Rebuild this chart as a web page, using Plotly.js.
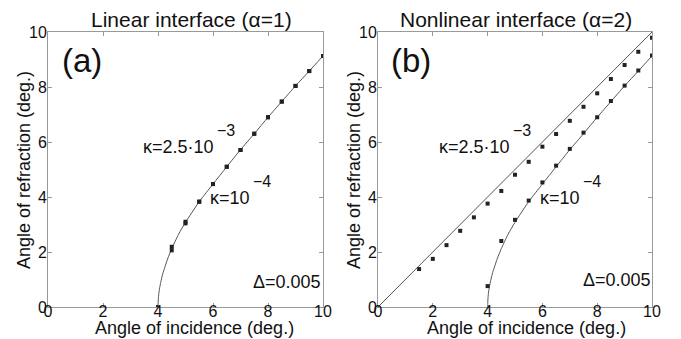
<!DOCTYPE html>
<html>
<head>
<meta charset="utf-8">
<script src="https://cdn.plot.ly/plotly-3.0.1.min.js"></script>
<style>html,body{margin:0;padding:0;background:#fff;}</style>
</head>
<body>
<div id="chart" style="width:681px;height:339px"></div>
<script>
// ---- data ----
const tickValues = [0, 2, 4, 6, 8, 10];
const tickLabels = ['0', '2', '4', '6', '8', '10'];

// theory curve (kappa = 1e-4 / linear), same in both panels
const curveX = [4, 4.01, 4.03, 4.06, 4.1, 4.17, 4.25, 4.35, 4.5, 4.75, 5, 5.5, 6, 6.5, 7, 7.5, 8, 8.5, 9, 9.5, 10];
const curveY = [0, 0.25, 0.5, 0.7, 0.9, 1.2, 1.45, 1.75, 2.12, 2.65, 3.08, 3.83, 4.47, 5.1, 5.72, 6.3, 6.9, 7.47, 8.04, 8.58, 9.13];

// panel (a) simulation points
const aK1X = [4, 4.5, 5, 5.5, 6, 6.5, 7, 7.5, 8, 8.5, 9, 9.5, 10];
const aK1Y = [0, 2.19, 3.10, 3.83, 4.47, 5.10, 5.71, 6.30, 6.90, 7.47, 8.04, 8.58, 9.13];
const aK2X = [4, 4.5, 5, 5.5, 6, 6.5, 7, 7.5, 8, 8.5, 9, 9.5, 10];
const aK2Y = [0, 2.06, 3.04, 3.83, 4.47, 5.10, 5.71, 6.30, 6.90, 7.47, 8.04, 8.58, 9.13];

// panel (b) diagonal theory line (kappa = 2.5e-3)
const diagX = [0, 10];
const diagY = [0, 10];

// panel (b) simulation points
const bK1X = [1.5, 2, 2.5, 3, 3.5, 4, 4.5, 5, 5.5, 6, 6.5, 7, 7.5, 8, 8.5, 9, 9.5, 10];
const bK1Y = [1.38, 1.75, 2.25, 2.77, 3.26, 3.76, 4.22, 4.81, 5.28, 5.83, 6.29, 6.77, 7.28, 7.77, 8.29, 8.80, 9.28, 9.79];
const bK2X = [4, 4.5, 5, 5.5, 6, 6.5, 7, 7.5, 8, 8.5, 9, 9.5, 10];
const bK2Y = [0.76, 2.40, 3.17, 3.87, 4.53, 5.14, 5.75, 6.34, 6.90, 7.49, 8.05, 8.60, 9.15];

// ---- layout helpers ----
const W = 681, H = 339;
const FONT = 'Liberation Sans, Arial, Helvetica, sans-serif';
const px = x => x / W;
const py = y => 1 - y / H;

const lineStyle = {color: '#555', width: 1, shape: 'spline', smoothing: 0.6};
const markerStyle = {color: '#222', size: 4, symbol: 'square'};

const traces = [
  {x: curveX, y: curveY, xaxis: 'x', yaxis: 'y', mode: 'lines', line: lineStyle, hoverinfo: 'skip'},
  {x: aK1X, y: aK1Y, xaxis: 'x', yaxis: 'y', mode: 'markers', marker: markerStyle},
  {x: aK2X, y: aK2Y, xaxis: 'x', yaxis: 'y', mode: 'markers', marker: markerStyle},
  {x: diagX, y: diagY, xaxis: 'x2', yaxis: 'y2', mode: 'lines', line: {color: '#555', width: 1}, hoverinfo: 'skip'},
  {x: curveX, y: curveY, xaxis: 'x2', yaxis: 'y2', mode: 'lines', line: lineStyle, hoverinfo: 'skip'},
  {x: bK1X, y: bK1Y, xaxis: 'x2', yaxis: 'y2', mode: 'markers', marker: markerStyle},
  {x: bK2X, y: bK2Y, xaxis: 'x2', yaxis: 'y2', mode: 'markers', marker: markerStyle}
];

function axis(domain, anchor, standoff) {
  return {
    domain: domain, anchor: anchor, range: [0, 10],
    tickmode: 'array', tickvals: tickValues, ticktext: tickLabels,
    ticks: 'inside', ticklen: 4, tickwidth: 1, tickcolor: '#999',
    ticklabelstandoff: standoff,
    showline: true, linecolor: '#999', linewidth: 1, mirror: 'ticks',
    showgrid: false, zeroline: false, fixedrange: true,
    tickfont: {family: FONT, size: 16, color: '#111'}
  };
}

const yDom = [py(307), py(32)];

function ann(text, x, y, size, opts) {
  return Object.assign({
    text: text, x: px(x), y: py(y), xref: 'paper', yref: 'paper',
    showarrow: false, xanchor: 'center', yanchor: 'middle',
    font: {family: FONT, size: size, color: '#111'}
  }, opts || {});
}

const annotations = [
  ann('Linear interface (α=1)', 191, 20, 21),
  ann('Nonlinear interface (α=2)', 516, 20, 21),
  ann('(a)', 82, 60, 33),
  ann('(b)', 411, 60, 33),
  ann('κ=2.5·10', 216, 147, 18, {xanchor: 'right'}),
  ann('−3', 215, 130, 16, {xanchor: 'left'}),
  ann('κ=10', 252, 198, 18, {xanchor: 'right'}),
  ann('−4', 251, 181, 16, {xanchor: 'left'}),
  ann('Δ=0.005', 287, 282, 18),
  ann('κ=2.5·10', 512, 147, 18, {xanchor: 'right'}),
  ann('−3', 511, 130, 16, {xanchor: 'left'}),
  ann('κ=10', 582, 198, 18, {xanchor: 'right'}),
  ann('−4', 581, 181, 16, {xanchor: 'left'}),
  ann('Δ=0.005', 617, 280, 18),
  ann('Angle of incidence (deg.)', 194, 328, 18),
  ann('Angle of incidence (deg.)', 526, 328, 18),
  ann('Angle of refraction (deg.)', 24, 170, 18, {textangle: -90}),
  ann('Angle of refraction (deg.)', 354, 170, 18, {textangle: -90})
];

const layout = {
  width: W, height: H,
  margin: {l: 0, r: 0, t: 0, b: 0},
  paper_bgcolor: '#fff', plot_bgcolor: '#fff',
  showlegend: false,
  xaxis: axis([px(48), px(323)], 'y', -10),
  yaxis: axis(yDom, 'x', -3),
  xaxis2: axis([px(378), px(652)], 'y2', -10),
  yaxis2: axis(yDom, 'x2', -3),
  annotations: annotations
};

Plotly.newPlot('chart', traces, layout, {displayModeBar: false, staticPlot: true});
</script>
</body>
</html>
